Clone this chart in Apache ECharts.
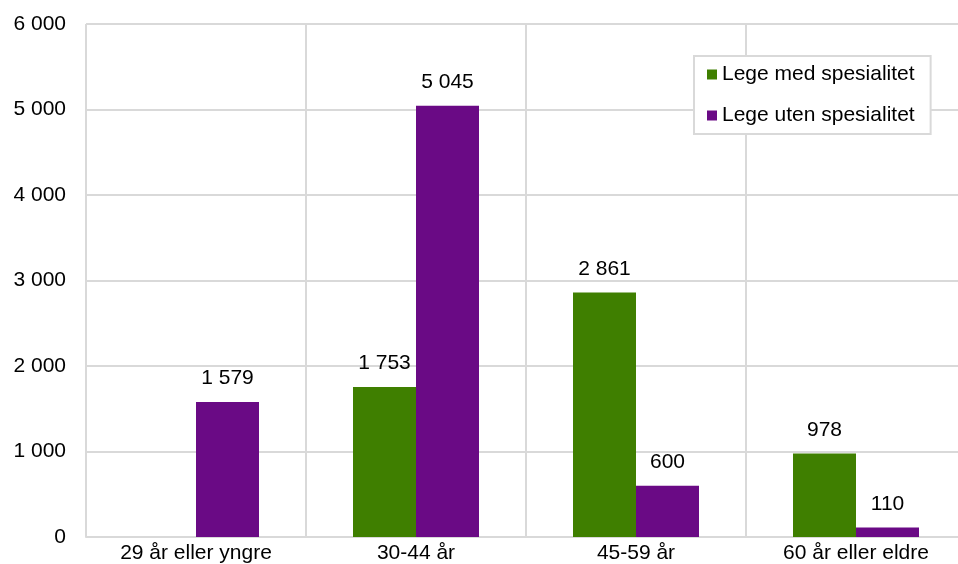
<!DOCTYPE html>
<html lang="no">
<head>
    <meta charset="UTF-8">
    <title>Leger etter alder</title>
    <script src="https://cdn.jsdelivr.net/npm/echarts@6/dist/echarts.min.js"></script>
    <style>
        html, body { margin: 0; padding: 0; background: #fff; overflow: hidden; }
    </style>
</head>
<body>
<!-- the plot runs past the right edge of the window, as in the original -->
<div id="main" style="width: 966px;height:564px;"></div>

<script type="text/javascript">
    // data
    var categories = ['29 år eller yngre', '30-44 år', '45-59 år', '60 år eller eldre'];
    var medSpesialitet = [null, 1753, 2861, 978];
    var utenSpesialitet = [1579, 5045, 600, 110];
    var yTicks = [0, 1000, 2000, 3000, 4000, 5000, 6000];

    function fmt(v) {
        return String(v).replace(/\B(?=(\d{3})+(?!\d))/g, ' ');
    }

    var myChart = echarts.init(document.getElementById('main'));
    var font = 'Liberation Sans, Arial, sans-serif';

    var option = {
        animation: false,
        color: ['#3f7f00', '#6a0a85'],
        textStyle: { fontFamily: font },
        grid: {
            left: 86,
            top: 24,
            right: 0,
            bottom: 27,
            containLabel: false
        },
        legend: {
            orient: 'vertical',
            left: 694,
            top: 56,
            padding: [8, 16, 8, 13],
            itemWidth: 10,
            itemHeight: 10,
            itemGap: 20,
            icon: 'rect',
            borderColor: '#d9d9d9',
            borderWidth: 2,
            backgroundColor: '#fff',
            textStyle: { fontSize: 21, color: '#000', fontFamily: font },
            data: ['Lege med spesialitet', 'Lege uten spesialitet']
        },
        xAxis: {
            type: 'category',
            data: categories,
            axisLine: { lineStyle: { color: '#d9d9d9', width: 2 } },
            axisTick: { show: false },
            axisLabel: { color: '#000', fontSize: 21, margin: 6, fontFamily: font },
            splitLine: { show: true, lineStyle: { color: '#d9d9d9', width: 2 } }
        },
        yAxis: {
            type: 'value',
            min: yTicks[0],
            max: yTicks[yTicks.length - 1],
            interval: 1000,
            axisLine: { show: false },
            axisTick: { show: false },
            axisLabel: {
                color: '#000', fontSize: 21, margin: 20, fontFamily: font,
                formatter: function (v) { return fmt(v); }
            },
            splitLine: { lineStyle: { color: '#d9d9d9', width: 2 } }
        },
        series: [
            {
                name: 'Lege med spesialitet',
                type: 'bar',
                data: medSpesialitet,
                barWidth: 63,
                barGap: '0%',
                label: {
                    show: true, position: 'top', distance: 13,
                    color: '#000', fontSize: 21, fontFamily: font,
                    formatter: function (p) { return fmt(p.value); }
                }
            },
            {
                name: 'Lege uten spesialitet',
                type: 'bar',
                data: utenSpesialitet,
                barWidth: 63,
                barGap: '0%',
                label: {
                    show: true, position: 'top', distance: 13,
                    color: '#000', fontSize: 21, fontFamily: font,
                    formatter: function (p) { return fmt(p.value); }
                }
            }
        ]
    };
    myChart.setOption(option);
</script>
</body>
</html>
